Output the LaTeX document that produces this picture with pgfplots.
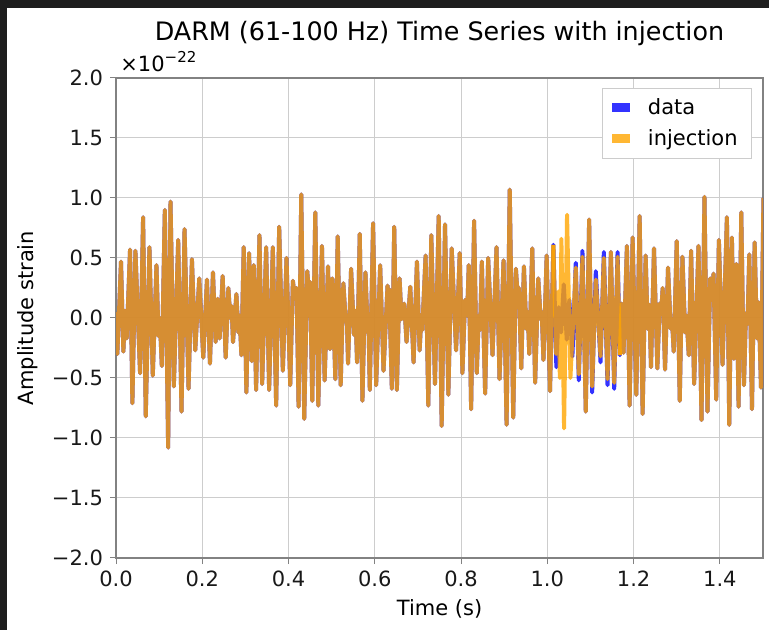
\documentclass[border=0pt]{standalone}
\usepackage{fontspec}
\setmainfont{DejaVu Sans}
\usepackage{pgfplots}
\pgfplotsset{compat=1.18}
\usepackage{pgfplotstable}
\definecolor{darkbg}{RGB}{30,30,30}
\definecolor{mplblue}{RGB}{0,0,255}
\definecolor{mplorange}{RGB}{255,165,0}
\definecolor{gridgray}{RGB}{205,205,205}
\definecolor{spinegray}{RGB}{130,130,130}

\pgfplotstableread{
t v
0.0000 0.05
0.0031 -0.30
0.0116 0.47
0.0171 -0.28
0.0209 0.06
0.0248 -0.17
0.0326 0.57
0.0380 -0.71
0.0450 0.56
0.0558 -0.46
0.0628 0.84
0.0690 -0.82
0.0775 0.59
0.0853 -0.48
0.0938 0.44
0.0985 -0.15
0.1015 0.00
0.1062 -0.40
0.1132 0.90
0.1209 -1.08
0.1264 0.97
0.1341 -0.57
0.1442 0.65
0.1519 -0.78
0.1589 0.74
0.1682 -0.59
0.1760 0.49
0.1837 -0.27
0.1930 0.33
0.2023 -0.33
0.2109 0.32
0.2178 -0.38
0.2248 0.38
0.2310 -0.20
0.2357 0.16
0.2403 -0.17
0.2473 0.35
0.2543 -0.33
0.2605 0.25
0.2650 0.00
0.2680 0.10
0.2713 -0.20
0.2791 0.20
0.2837 -0.12
0.2865 0.02
0.2907 -0.31
0.2961 0.59
0.3023 -0.62
0.3085 0.54
0.3147 -0.36
0.3194 0.44
0.3248 -0.60
0.3326 0.69
0.3388 -0.55
0.3481 0.59
0.3550 -0.60
0.3636 0.59
0.3713 -0.73
0.3783 0.76
0.3868 -0.44
0.3953 0.50
0.4039 -0.56
0.4101 0.31
0.4147 0.16
0.4186 0.25
0.4233 -0.74
0.4295 1.03
0.4364 -0.84
0.4434 0.39
0.4470 0.22
0.4500 0.30
0.4550 -0.69
0.4620 0.88
0.4690 -0.73
0.4775 0.60
0.4837 -0.52
0.4915 0.43
0.4961 -0.26
0.5016 0.33
0.5085 -0.51
0.5140 0.68
0.5209 -0.56
0.5271 0.29
0.5326 -0.03
0.5350 0.02
0.5380 -0.38
0.5450 0.41
0.5519 -0.14
0.5550 0.06
0.5589 -0.37
0.5651 0.70
0.5713 -0.69
0.5783 0.38
0.5837 -0.12
0.5855 -0.06
0.5884 -0.60
0.5960 0.79
0.6031 -0.56
0.6124 0.44
0.6202 -0.44
0.6295 0.27
0.6312 0.12
0.6333 0.24
0.6395 -0.59
0.6450 0.76
0.6512 -0.60
0.6574 0.33
0.6620 -0.01
0.6682 0.12
0.6736 -0.20
0.6822 0.26
0.6899 -0.37
0.6977 0.47
0.7039 -0.27
0.7070 -0.05
0.7100 -0.10
0.7178 0.52
0.7240 -0.73
0.7310 0.69
0.7395 -0.55
0.7481 0.85
0.7550 -0.90
0.7628 0.78
0.7705 -0.64
0.7783 0.58
0.7884 -0.27
0.7969 0.54
0.8031 -0.46
0.8093 0.15
0.8140 0.02
0.8178 0.44
0.8233 -0.76
0.8302 0.81
0.8364 -0.46
0.8410 0.02
0.8440 -0.10
0.8481 0.47
0.8558 -0.63
0.8628 0.50
0.8729 -0.31
0.8822 0.59
0.8891 -0.51
0.8985 0.48
0.9055 -0.89
0.9128 1.07
0.9209 -0.83
0.9271 0.41
0.9310 0.20
0.9340 0.25
0.9395 -0.42
0.9457 0.43
0.9512 -0.09
0.9545 0.05
0.9581 -0.30
0.9650 0.58
0.9717 -0.54
0.9790 0.33
0.9845 -0.01
0.9870 0.05
0.9910 -0.35
0.9984 0.52
1.0062 -0.61
1.0140 0.61
1.0209 -0.41
1.0264 0.09
1.0320 -0.12
1.0380 0.28
1.0450 -0.18
1.0510 0.15
1.0581 -0.32
1.0659 0.46
1.0729 -0.52
1.0814 0.56
1.0891 -0.78
1.0969 0.82
1.1039 -0.62
1.1124 0.39
1.1233 -0.37
1.1310 0.55
1.1395 -0.56
1.1473 0.55
1.1550 -0.59
1.1628 0.55
1.1682 -0.31
1.1721 0.12
1.1767 -0.29
1.1845 0.60
1.1907 -0.73
1.1977 0.67
1.2062 -0.64
1.2140 0.85
1.2209 -0.80
1.2279 0.52
1.2326 -0.09
1.2364 0.11
1.2403 -0.41
1.2473 0.58
1.2550 -0.42
1.2605 0.12
1.2640 0.05
1.2674 0.25
1.2729 -0.43
1.2798 0.42
1.2860 -0.09
1.2890 -0.01
1.2930 -0.28
1.3000 0.64
1.3070 -0.69
1.3132 0.51
1.3194 -0.12
1.3225 0.02
1.3279 -0.31
1.3333 0.56
1.3403 -0.55
1.3504 0.60
1.3574 -0.85
1.3643 1.01
1.3713 -0.78
1.3775 0.33
1.3810 0.15
1.3853 0.37
1.3915 -0.68
1.3977 0.65
1.4062 -0.39
1.4163 0.84
1.4217 -0.89
1.4279 0.67
1.4326 -0.34
1.4380 0.45
1.4434 -0.74
1.4496 0.88
1.4558 -0.56
1.4605 0.04
1.4640 -0.05
1.4682 0.53
1.4744 -0.76
1.4806 0.63
1.4860 -0.17
1.4899 0.13
1.4953 -0.58
1.5010 1.00
}\datatab

\pgfplotstableread{
t v
1.0140 0.61
1.0205 -0.30
1.0255 0.22
1.0290 -0.50
1.0326 0.66
1.0388 -0.92
1.0457 0.86
1.0535 -0.50
1.0659 0.42
1.0729 -0.47
1.0814 0.51
1.0891 -0.78
1.0969 0.82
1.1039 -0.57
1.1124 0.32
1.1233 -0.32
1.1310 0.50
1.1395 -0.51
1.1473 0.55
1.1550 -0.54
1.1628 0.51
1.1682 -0.31
}\injtab

\begin{document}
\begin{tikzpicture}
\path[use as bounding box] (-58pt,-36pt) rectangle (326.5pt,279pt);
\fill[darkbg] (-58pt,-36pt) rectangle (326.5pt,279pt);
\fill[white] (-54.5pt,-36pt) rectangle (326.5pt,275pt);
\begin{axis}[
  name=ax,
  at={(0,0)}, anchor=south west,
  scale only axis, width=323.5pt, height=240pt,
  xmin=0, xmax=1.5, ymin=-2, ymax=2,
  xtick={0,0.2,0.4,0.6,0.8,1.0,1.2,1.4},
  xticklabels={0.0,0.2,0.4,0.6,0.8,1.0,1.2,1.4},
  ytick={-2,-1.5,-1,-0.5,0,0.5,1,1.5,2},
  yticklabels={−2.0,−1.5,−1.0,−0.5,0.0,0.5,1.0,1.5,2.0},
  tick align=outside, major tick length=3pt,
  xtick pos=bottom, ytick pos=left,
  tick style={spinegray, line width=0.5pt},
  axis line style={spinegray, line width=0.6pt},
  grid=major, major grid style={gridgray, line width=0.5pt},
  ticklabel style={font=\fontsize{10.5}{12}\selectfont, text=black!90},
  clip mode=individual,
  legend style={at={(rel axis cs:0.983,0.979)}, anchor=north east,
    draw=black!20, fill=white, font=\fontsize{10.5}{12}\selectfont,
    inner xsep=5pt, inner ysep=3pt, row sep=2pt, column sep=7pt,
    cells={anchor=west}},
  legend image code/.code={\fill[#1, draw=none] (0pt,-2.25pt) rectangle (9pt,2.25pt);},
]
\addplot[mplblue, opacity=0.8, line width=2pt, line join=round] table[x=t,y=v] {\datatab};
\addlegendentry{data}
\addplot[mplorange, opacity=0.8, line width=2pt, line join=round, restrict x to domain=0:1.0141] table[x=t,y=v] {\datatab};
\addlegendentry{injection}
\addplot[mplorange, opacity=0.8, line width=2pt, line join=round, forget plot] table[x=t,y=v] {\injtab};
\addplot[mplorange, opacity=0.8, line width=2pt, line join=round, forget plot, restrict x to domain=1.1681:1.6] table[x=t,y=v] {\datatab};
\end{axis}
\node[anchor=base, font=\fontsize{12.7}{15}\selectfont] at ([yshift=18.5pt]ax.north) {DARM (61-100 Hz) Time Series with injection};
\node[anchor=base west, inner sep=0pt, font=\fontsize{10.5}{12}\selectfont] at ([xshift=2pt,yshift=3pt]ax.north west) {×10\raisebox{0.8ex}{\fontsize{7.5}{8}\selectfont −22}};
\node[anchor=base, font=\fontsize{10.5}{12}\selectfont] at ([yshift=-28.5pt]ax.south) {Time (s)};
\node[anchor=base, rotate=90, font=\fontsize{10.5}{12}\selectfont] at ([xshift=-41pt]ax.west) {Amplitude strain};
\end{tikzpicture}
\end{document}
